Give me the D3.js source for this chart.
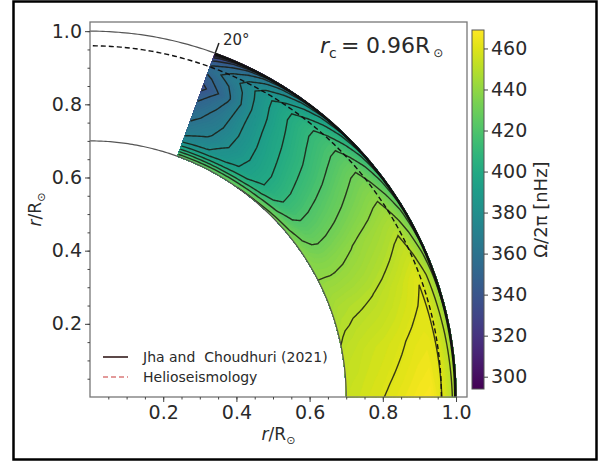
<!DOCTYPE html>
<html>
<head>
<meta charset="utf-8">
<script src="https://cdn.jsdelivr.net/npm/d3@7"></script>
<style>
  body { margin: 0; background: #fff; }
  svg text { font-family: 'DejaVu Sans', sans-serif; fill: #2a2a2a; }
</style>
</head>
<body>
<svg id="chart" width="600" height="462"></svg>
<script>
// grid rows (r / R_sun) and columns (latitude, degrees)
const radii = [0.70, 0.71, 0.72, 0.735, 0.75, 0.78, 0.82, 0.86, 0.90, 0.93, 0.95, 0.965, 0.98, 0.99, 1.00]
const latitudes = [0, 10, 20, 30, 40, 50, 55, 60, 65, 70]

// Omega / 2pi in nHz, one row per radius, one column per latitude
const omega = [
  [454, 451, 445, 438, 434, 431, 430, 429, 428, 427],
  [455, 452, 446, 437.5, 430, 424, 421, 419, 417, 415],
  [455.5, 452.5, 447, 437, 426, 414, 410, 406, 403, 401],
  [456, 453, 447.5, 436.5, 422, 405, 399, 393, 389, 385],
  [457, 454, 448, 436.5, 420, 401, 393, 386, 379, 373],
  [458.5, 455.5, 448.5, 437.5, 420.5, 401, 392, 382, 371, 364],
  [461, 457, 449.8, 439.5, 422.5, 403, 393, 381, 366, 357],
  [463.5, 459, 452, 442, 425, 405, 395, 382, 363, 350],
  [466, 461.5, 455, 444, 428, 408, 397, 383, 359, 337],
  [467.5, 462.5, 458, 446, 430, 410, 399, 385, 363, 347],
  [463, 461.5, 459.8, 447, 430.5, 410, 399, 386, 368, 354],
  [459, 457, 455, 442, 426, 405, 393, 381, 364, 349],
  [454, 452, 449, 437, 420, 398, 386, 373, 356, 338],
  [450, 447.5, 444, 432, 414, 391, 378, 365, 347, 326],
  [444, 440, 434, 420, 400, 374, 360, 344, 323, 295]
]

const xTicks = [0.2, 0.4, 0.6, 0.8, 1.0]
const yTicks = [0.2, 0.4, 0.6, 0.8, 1.0]
const colorTicks = [300, 320, 340, 360, 380, 400, 420, 440, 460]
const lineLevels = [300, 310, 320, 330, 340, 350, 360, 370, 380, 390, 400, 410, 420, 430, 440, 450, 460]
const colorDomain = [294, 469]

const svg = d3.select('#chart')

const xScale = d3.scaleLinear().domain([0, 1.03]).range([90, 467])
const yScale = d3.scaleLinear().domain([0, 1.025]).range([397, 22])
const color = d3.scaleSequential(d3.interpolateViridis).domain(colorDomain)

const nx = latitudes.length
const ny = radii.length

// grid index -> latitude / radius (sample i sits at i + 0.5 in d3.contours space)
const latOf = d3.scaleLinear().domain(latitudes.map((d, i) => i + 0.5)).range(latitudes).clamp(true)
const rOf = d3.scaleLinear().domain(radii.map((d, i) => i + 0.5)).range(radii).clamp(true)

function projectPoint(p) {
  const a = latOf(p[0]) * Math.PI / 180
  const r = rOf(p[1])
  return [xScale(r * Math.cos(a)), yScale(r * Math.sin(a))]
}

// split each straight grid segment so it bends with the polar mapping
function segmentPoints(a, b) {
  const n = Math.max(1, Math.ceil(Math.hypot(b[0] - a[0], b[1] - a[1]) * 10))
  const pts = []
  for (let k = 1; k <= n; k++) {
    pts.push(projectPoint([a[0] + (b[0] - a[0]) * k / n, a[1] + (b[1] - a[1]) * k / n]))
  }
  return pts
}

function fmt(p) {
  return p[0].toFixed(2) + ',' + p[1].toFixed(2)
}

function ringToPath(ring) {
  let pts = [projectPoint(ring[0])]
  for (let i = 1; i < ring.length; i++) pts = pts.concat(segmentPoints(ring[i - 1], ring[i]))
  return 'M' + pts.map(fmt).join('L') + 'Z'
}

function onEdge(p, q) {
  return (p[0] <= 0.5 && q[0] <= 0.5) || (p[0] >= nx - 0.5 && q[0] >= nx - 0.5) ||
    (p[1] <= 0.5 && q[1] <= 0.5) || (p[1] >= ny - 0.5 && q[1] >= ny - 0.5)
}

function ringToLine(ring) {
  let d = ''
  let open = false
  for (let i = 1; i < ring.length; i++) {
    const a = ring[i - 1]
    const b = ring[i]
    if (onEdge(a, b)) {
      open = false
      continue
    }
    if (!open) {
      d += 'M' + fmt(projectPoint(a))
      open = true
    }
    d += segmentPoints(a, b).map(p => 'L' + fmt(p)).join('')
  }
  return d
}

const values = omega.flat()
const contours = d3.contours().size([nx, ny])

// filled shading
const fillStep = 1.5
const fillLevels = d3.range(colorDomain[0], colorDomain[1], fillStep)
const fills = svg.append('g')
contours.thresholds(fillLevels)(values).forEach(c => {
  const d = c.coordinates.map(poly => poly.map(ringToPath).join('')).join('')
  if (!d) return
  fills.append('path')
    .attr('d', d)
    .attr('fill', color(c.value + fillStep / 2))
    .attr('fill-rule', 'evenodd')
    .attr('stroke', color(c.value + fillStep / 2))
    .attr('stroke-width', 0.3)
})

// contour lines
const lines = svg.append('g')
contours.thresholds(lineLevels)(values).forEach(c => {
  const d = c.coordinates.map(poly => poly.map(ringToLine).join('')).join('')
  if (!d) return
  lines.append('path')
    .attr('d', d)
    .attr('fill', 'none')
    .attr('stroke', '#1b1b12')
    .attr('stroke-opacity', 0.85)
    .attr('stroke-width', 1.4)
})

// reference arcs
function arcLine(r, a0, a1) {
  return d3.line()(d3.range(a0, a1 + 0.001, 0.5).map(a => {
    const t = a * Math.PI / 180
    return [xScale(r * Math.cos(t)), yScale(r * Math.sin(t))]
  }))
}

svg.append('path').attr('d', arcLine(1.0, 0, 90))
  .attr('fill', 'none').attr('stroke', '#555').attr('stroke-width', 1.2)
svg.append('path').attr('d', arcLine(0.7, 0, 90))
  .attr('fill', 'none').attr('stroke', '#555').attr('stroke-width', 1.2)
svg.append('path').attr('d', arcLine(0.998, 0, 70))
  .attr('fill', 'none').attr('stroke', '#111').attr('stroke-width', 2.6)
svg.append('path').attr('d', arcLine(0.96, 0, 90))
  .attr('fill', 'none').attr('stroke', '#111').attr('stroke-width', 1.4)
  .attr('stroke-dasharray', '5,3')

// 20 degree colatitude marker
const mark = 70 * Math.PI / 180
svg.append('line')
  .attr('x1', xScale(1.0 * Math.cos(mark))).attr('y1', yScale(1.0 * Math.sin(mark)))
  .attr('x2', xScale(1.03 * Math.cos(mark))).attr('y2', yScale(1.03 * Math.sin(mark)))
  .attr('stroke', '#222').attr('stroke-width', 1.5)
svg.append('text')
  .attr('x', xScale(1.03 * Math.cos(mark)) + 4)
  .attr('y', yScale(1.03 * Math.sin(mark)) + 2)
  .attr('font-size', 15)
  .text('20°')

// axes frame
svg.append('rect')
  .attr('x', xScale(0)).attr('y', yScale(1.025))
  .attr('width', xScale(1.03) - xScale(0)).attr('height', yScale(0) - yScale(1.025))
  .attr('fill', 'none').attr('stroke', '#777').attr('stroke-width', 1.3)

const minorTicks = d3.range(0.05, 1.03, 0.05)

function styleAxis(g) {
  g.select('.domain').remove()
  g.selectAll('line').attr('stroke', '#444')
  g.selectAll('text').attr('font-size', 19).attr('fill', '#2a2a2a')
}

svg.append('g').attr('transform', `translate(0,${yScale(0)})`)
  .call(d3.axisBottom(xScale).tickValues(minorTicks).tickFormat('').tickSize(2.5))
  .call(styleAxis)
svg.append('g').attr('transform', `translate(${xScale(0)},0)`)
  .call(d3.axisLeft(yScale).tickValues(minorTicks).tickFormat('').tickSize(2.5))
  .call(styleAxis)
svg.append('g').attr('transform', `translate(0,${yScale(0)})`)
  .call(d3.axisBottom(xScale).tickValues(xTicks).tickFormat(d3.format('.1f')).tickSize(5).tickPadding(4))
  .call(styleAxis)
svg.append('g').attr('transform', `translate(${xScale(0)},0)`)
  .call(d3.axisLeft(yScale).tickValues(yTicks).tickFormat(d3.format('.1f')).tickSize(5).tickPadding(3))
  .call(styleAxis)

// axis labels
const xLabel = svg.append('text')
  .attr('x', (xScale(0) + xScale(1.03)) / 2).attr('y', 440)
  .attr('text-anchor', 'middle').attr('font-size', 17)
xLabel.append('tspan').attr('font-style', 'italic').text('r')
xLabel.append('tspan').text('/R')
xLabel.append('tspan').attr('font-size', 11).attr('dy', 4).text('⊙')

const yLabel = svg.append('text')
  .attr('transform', `translate(41,${(yScale(0) + yScale(1.025)) / 2}) rotate(-90)`)
  .attr('text-anchor', 'middle').attr('font-size', 17)
yLabel.append('tspan').attr('font-style', 'italic').text('r')
yLabel.append('tspan').text('/R')
yLabel.append('tspan').attr('font-size', 11).attr('dy', 4).text('⊙')

// r_c annotation
const note = svg.append('g').attr('font-size', 22)
note.append('text').attr('x', 320).attr('y', 53).attr('font-style', 'italic').text('r')
note.append('text').attr('x', 329).attr('y', 58).attr('font-size', 14).text('c')
note.append('text').attr('x', 341).attr('y', 53).text('=')
const rcValue = note.append('text').attr('x', 366).attr('y', 53)
rcValue.append('tspan').text('0.96R')
rcValue.append('tspan').attr('font-size', 12).attr('dx', 3).attr('dy', 4).text('⊙')

// legend
const legend = svg.append('g')
legend.append('line')
  .attr('x1', 103).attr('x2', 128).attr('y1', 357).attr('y2', 357)
  .attr('stroke', '#4a3535').attr('stroke-width', 1.8)
legend.append('text').attr('x', 143).attr('y', 362).attr('font-size', 14)
  .attr('fill', '#444').text('Jha and  Choudhuri (2021)')
  .style('white-space', 'pre')
legend.append('line')
  .attr('x1', 103).attr('x2', 128).attr('y1', 377).attr('y2', 377)
  .attr('stroke', '#e39a9a').attr('stroke-width', 1.8).attr('stroke-dasharray', '5,3')
legend.append('text').attr('x', 143).attr('y', 382).attr('font-size', 14)
  .attr('fill', '#444').text('Helioseismology')

// colorbar
const cbScale = d3.scaleLinear().domain(colorDomain).range([389, 30])
const grad = svg.append('defs').append('linearGradient')
  .attr('id', 'cb').attr('x1', 0).attr('x2', 0).attr('y1', 1).attr('y2', 0)
d3.range(0, 1.0001, 0.05).forEach(t => {
  grad.append('stop').attr('offset', t)
    .attr('stop-color', color(colorDomain[0] + t * (colorDomain[1] - colorDomain[0])))
})
svg.append('rect')
  .attr('x', 472).attr('y', cbScale(colorDomain[1]))
  .attr('width', 12).attr('height', cbScale(colorDomain[0]) - cbScale(colorDomain[1]))
  .attr('fill', 'url(#cb)').attr('stroke', '#555').attr('stroke-width', 1)
svg.append('g').attr('transform', 'translate(484,0)')
  .call(d3.axisRight(cbScale).tickValues(colorTicks).tickSize(4).tickPadding(3))
  .call(styleAxis)

svg.append('text')
  .attr('transform', `translate(547,${(cbScale(colorDomain[0]) + cbScale(colorDomain[1])) / 2}) rotate(-90)`)
  .attr('text-anchor', 'middle').attr('font-size', 18)
  .text('Ω/2π [nHz]')

// outer border
svg.append('rect')
  .attr('x', 13.5).attr('y', 1.5).attr('width', 583).attr('height', 458)
  .attr('fill', 'none').attr('stroke', '#000').attr('stroke-width', 2.5)
</script>
</body>
</html>
